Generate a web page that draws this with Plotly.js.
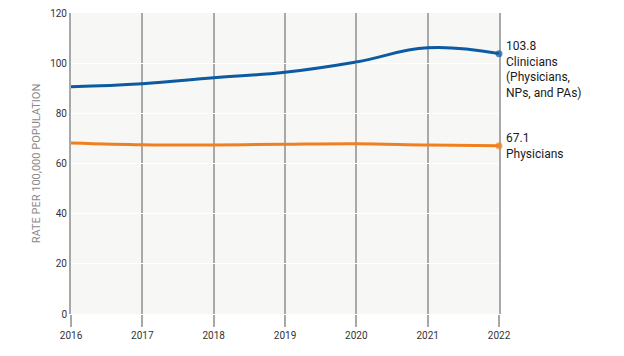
<!DOCTYPE html>
<html>
<head>
<meta charset="utf-8">
<script src="https://cdn.plot.ly/plotly-3.0.1.min.js"></script>
<style>
  html, body { margin: 0; padding: 0; background: #ffffff; }
  #chart { width: 624px; height: 356px; }
</style>
</head>
<body>
<div id="chart"></div>
<script>
const years = [2016, 2017, 2018, 2019, 2020, 2021, 2022];
const clinicians = [90.6, 91.8, 94.2, 96.4, 100.5, 106.1, 103.8];
const physicians = [68.2, 67.5, 67.4, 67.7, 67.9, 67.4, 67.1];
const yTicks = [0, 20, 40, 60, 80, 100, 120];
const clinLabel = ['103.8', 'Clinicians', '(Physicians,', 'NPs, and PAs)'];
const physLabel = ['67.1', 'Physicians'];
const yTitle = 'RATE PER 100,000 POPULATION';

const blue = '#0b5aa2';
const orange = '#f0801f';
const endMarker = arr => arr.map((v, i) => (i === arr.length - 1 ? 7 : 0));

const traces = [
  {
    x: years, y: clinicians, type: 'scatter', mode: 'lines+markers',
    line: { color: blue, width: 3, shape: 'spline', smoothing: 1.2 },
    marker: { color: blue, size: endMarker(clinicians), line: { width: 0 } },
    hoverinfo: 'skip', cliponaxis: false
  },
  {
    x: years, y: physicians, type: 'scatter', mode: 'lines+markers',
    line: { color: orange, width: 3, shape: 'spline', smoothing: 1 },
    marker: { color: orange, size: endMarker(physicians), line: { width: 0 } },
    hoverinfo: 'skip', cliponaxis: false
  }
];

const last = years.length - 1;
const layout = {
  width: 624, height: 356,
  margin: { l: 71, r: 125, t: 13, b: 42 },
  paper_bgcolor: '#ffffff',
  plot_bgcolor: '#f7f7f5',
  showlegend: false,
  font: { family: 'Roboto, sans-serif', color: '#333333', size: 10 },
  xaxis: {
    range: [years[0], years[last]],
    tickvals: years, ticktext: years.map(String),
    showgrid: true, gridcolor: '#a8a8a8', gridwidth: 2,
    ticks: 'outside', ticklen: 12, tickwidth: 2, tickcolor: '#a8a8a8',
    showline: false, zeroline: false, layer: 'below traces',
    tickfont: { size: 10, color: '#333333' }
  },
  yaxis: {
    range: [0, 120],
    tickvals: yTicks, ticktext: yTicks.map(String),
    showgrid: true, gridcolor: '#ffffff', gridwidth: 1,
    ticks: '', zeroline: false, layer: 'below traces',
    showline: true, mirror: true, linecolor: '#a8a8a8', linewidth: 2,
    tickfont: { size: 10, color: '#333333' },
    title: { text: yTitle, font: { size: 11, color: '#8a8a8a' }, standoff: 7 }
  },
  annotations: [
    {
      x: years[last], y: clinicians[last], xref: 'x', yref: 'y',
      text: clinLabel.join('<br>'), showarrow: false,
      xanchor: 'left', yanchor: 'top', align: 'left',
      xshift: 5, yshift: 17,
      font: { size: 12, color: '#1a1a1a' }
    },
    {
      x: years[last], y: physicians[last], xref: 'x', yref: 'y',
      text: physLabel.join('<br>'), showarrow: false,
      xanchor: 'left', yanchor: 'top', align: 'left',
      xshift: 5, yshift: 17,
      font: { size: 12, color: '#1a1a1a' }
    }
  ]
};

Plotly.newPlot('chart', traces, layout, { staticPlot: true, displayModeBar: false });
</script>
</body>
</html>
